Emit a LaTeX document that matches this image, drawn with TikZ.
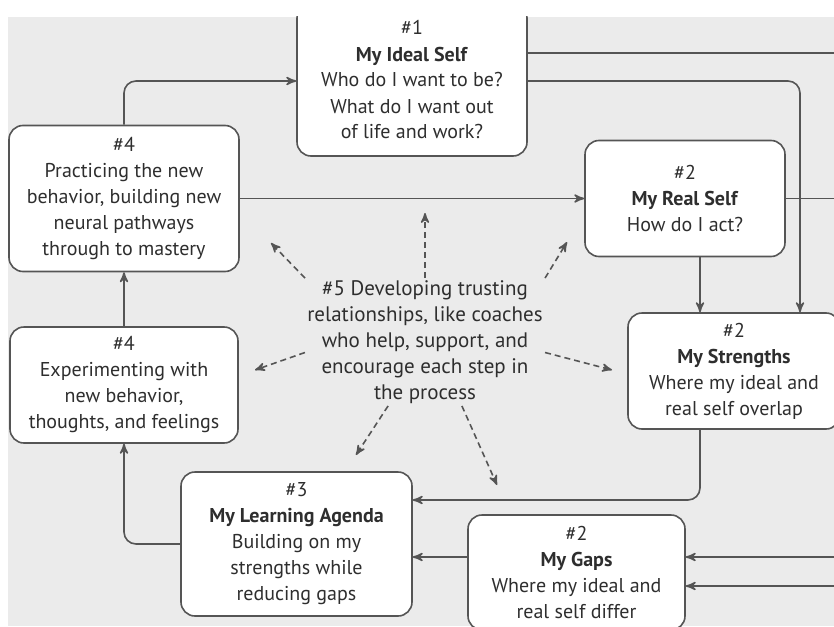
\documentclass[tikz,border=0pt]{standalone}
\usepackage{fontspec}
\setmainfont{PT Sans}
\usetikzlibrary{arrows}
\definecolor{paper}{HTML}{EBEBEB}
\definecolor{ink}{HTML}{555555}
\definecolor{txt}{HTML}{2E2E2E}

\begin{document}
\begin{tikzpicture}[x=0.5pt,y=-0.5pt,>=stealth',
        box/.style={shape=rectangle,rounded corners=7pt,draw=ink,fill=white,line width=0.8pt,align=center,text=txt,inner sep=0pt,font=\fontsize{10}{13}\selectfont},
        link/.style={->,draw=ink,line width=0.8pt,rounded corners=6pt},
        hint/.style={link,dash pattern=on 3pt off 2pt}]
                \useasboundingbox(0, 0) rectangle (834, 626);
                \fill[white](0, 0) rectangle (834, 626);
                \fill[paper](8, 17) rectangle (834, 626);
                \begin{scope}
                \clip(8, 17) rectangle (834, 626);
                \node[box,minimum width=115pt,minimum height=76pt](1)at(412, 80){\#1\\\textbf{My Ideal Self}\\Who do I want to be?\\What do I want out\\of life and work?};
                \node[box,minimum width=115pt,minimum height=73pt](4b)at(124, 198.5){\#4\\Practicing the new\\behavior, building new\\neural pathways\\through to mastery};
                \node[box,minimum width=100pt,minimum height=58pt](2a)at(685, 198.5){\#2\\\textbf{My Real Self}\\How do I act?};
                \node[box,minimum width=106pt,minimum height=58pt](2b)at(734, 371){\#2\\\textbf{My Strengths}\\Where my ideal and\\real self overlap};
                \node[box,minimum width=114pt,minimum height=58pt](4a)at(124, 385){\#4\\Experimenting with\\new behavior,\\thoughts, and feelings};
                \node[box,minimum width=115.5pt,minimum height=72pt](3)at(296.5, 544){\#3\\\textbf{My Learning Agenda}\\Building on my\\strengths while\\reducing gaps};
                \node[box,minimum width=108.5pt,minimum height=57.5pt](2c)at(576.5, 572.5){\#2\\\textbf{My Gaps}\\Where my ideal and\\real self differ};
                \node[align=center,text=txt,inner sep=1pt,font=\fontsize{10.5}{13}\selectfont](5)at(425, 342){\#5 Developing trusting\\relationships, like coaches\\who help, support, and\\encourage each step in\\the process};
                % loose ends at the right border
                \coordinate(r1)at(834, 53);
                \coordinate(r2)at(834, 198.5);
                \coordinate(r3)at(834, 557);
                \coordinate(r4)at(834, 586);
                % tips of the dashed arrows
                \coordinate(d1)at(425, 213);
                \coordinate(d2)at(271, 243);
                \coordinate(d3)at(567, 242);
                \coordinate(d4)at(255, 370);
                \coordinate(d5)at(612, 370);
                \coordinate(d6)at(356, 455);
                \coordinate(d7)at(497, 485);
                \draw[link,-](1.east |- 0,53) -- (r1);
                \draw[link](1.east |- 0,81) -| (2b.north -| 800,0);
                \draw[link](4b.north) |- (1.west |- 0,81);
                \draw[link](4b.east) -- (2a.west);
                \draw[link,-](2a.east) -- (r2);
                \draw[link](2a.south -| 700,0) -- (2b.north -| 700,0);
                \draw[link](4a.north) -- (4b.south);
                \draw[link](2b.south -| 700,0) |- (3.east |- 0,500);
                \draw[link](3.west) -| (4a.south);
                \draw[link](2c.west |- 0,557) -- (3.east |- 0,557);
                \draw[link](r3) -- (2c.east |- 0,557);
                \draw[link](r4) -- (2c.east |- 0,586);
                \path[](5.north) edge[hint] (d1)
                (5.north west) edge[hint] (d2)
                (5.north east) edge[hint] (d3)
                (5.185) edge[hint] (d4)
                (5.355) edge[hint] (d5)
                (5.240) edge[hint] (d6)
                (5.300) edge[hint] (d7);
                \end{scope}
            \end{tikzpicture}
\end{document}
